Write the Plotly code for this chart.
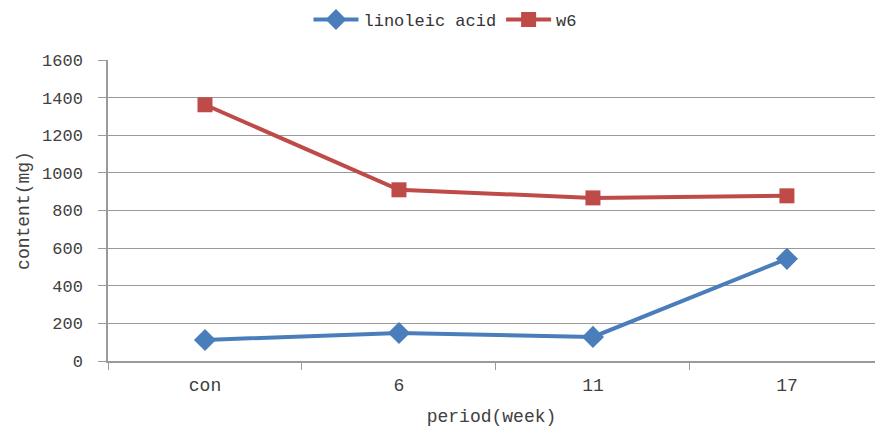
import plotly.graph_objects as go

# Fatty-acid content over the rearing period
periods = ["con", "6", "11", "17"]
linoleic_acid = [112, 149, 128, 543]
w6 = [1362, 910, 867, 878]

y_ticks = [0, 200, 400, 600, 800, 1000, 1200, 1400, 1600]

BLUE = "#4A7EBB"
RED = "#BE4B48"
GRID = "#9A9A9A"
FONT = "Liberation Mono"

fig = go.Figure()
fig.add_trace(go.Scatter(
    x=periods, y=linoleic_acid, name="linoleic acid", mode="lines+markers",
    line=dict(color=BLUE, width=4),
    marker=dict(symbol="diamond", size=17, color=BLUE),
))
fig.add_trace(go.Scatter(
    x=periods, y=w6, name="w6", mode="lines+markers",
    line=dict(color=RED, width=4),
    marker=dict(symbol="square", size=15, color=RED),
))

fig.update_layout(
    width=875, height=436,
    margin=dict(l=108, r=0, t=60, b=75),
    paper_bgcolor="white", plot_bgcolor="white",
    font=dict(family=FONT, size=17, color="#404040"),
    showlegend=True,
    legend=dict(
        orientation="h", x=0.44, xanchor="center", y=1.133, yanchor="middle",
        font=dict(family=FONT, size=17, color="#333333"),
        itemwidth=45, tracegroupgap=0, bgcolor="rgba(0,0,0,0)",
    ),
    xaxis=dict(
        type="category", categoryorder="array", categoryarray=periods,
        range=[-0.5, 3.454],
        showline=True, linecolor=GRID, linewidth=1.5,
        ticks="outside", tickson="boundaries", ticklen=7, tickcolor=GRID,
        showgrid=False, zeroline=False, ticklabelstandoff=7,
        tickfont=dict(family=FONT, size=18, color="#404040"),
        title=dict(text="period(week)", standoff=14,
                   font=dict(family=FONT, size=18, color="#404040")),
    ),
    yaxis=dict(
        range=[0, 1600], tickvals=y_ticks,
        showline=True, linecolor=GRID, linewidth=1.5,
        ticks="outside", ticklen=8, tickcolor=GRID,
        showgrid=True, gridcolor=GRID, gridwidth=1.2,
        zeroline=False, ticklabelstandoff=12,
        tickfont=dict(family=FONT, size=17, color="#404040"),
        title=dict(text="content(mg)", standoff=8,
                   font=dict(family=FONT, size=18, color="#404040")),
    ),
)

fig.write_html("out.html")
